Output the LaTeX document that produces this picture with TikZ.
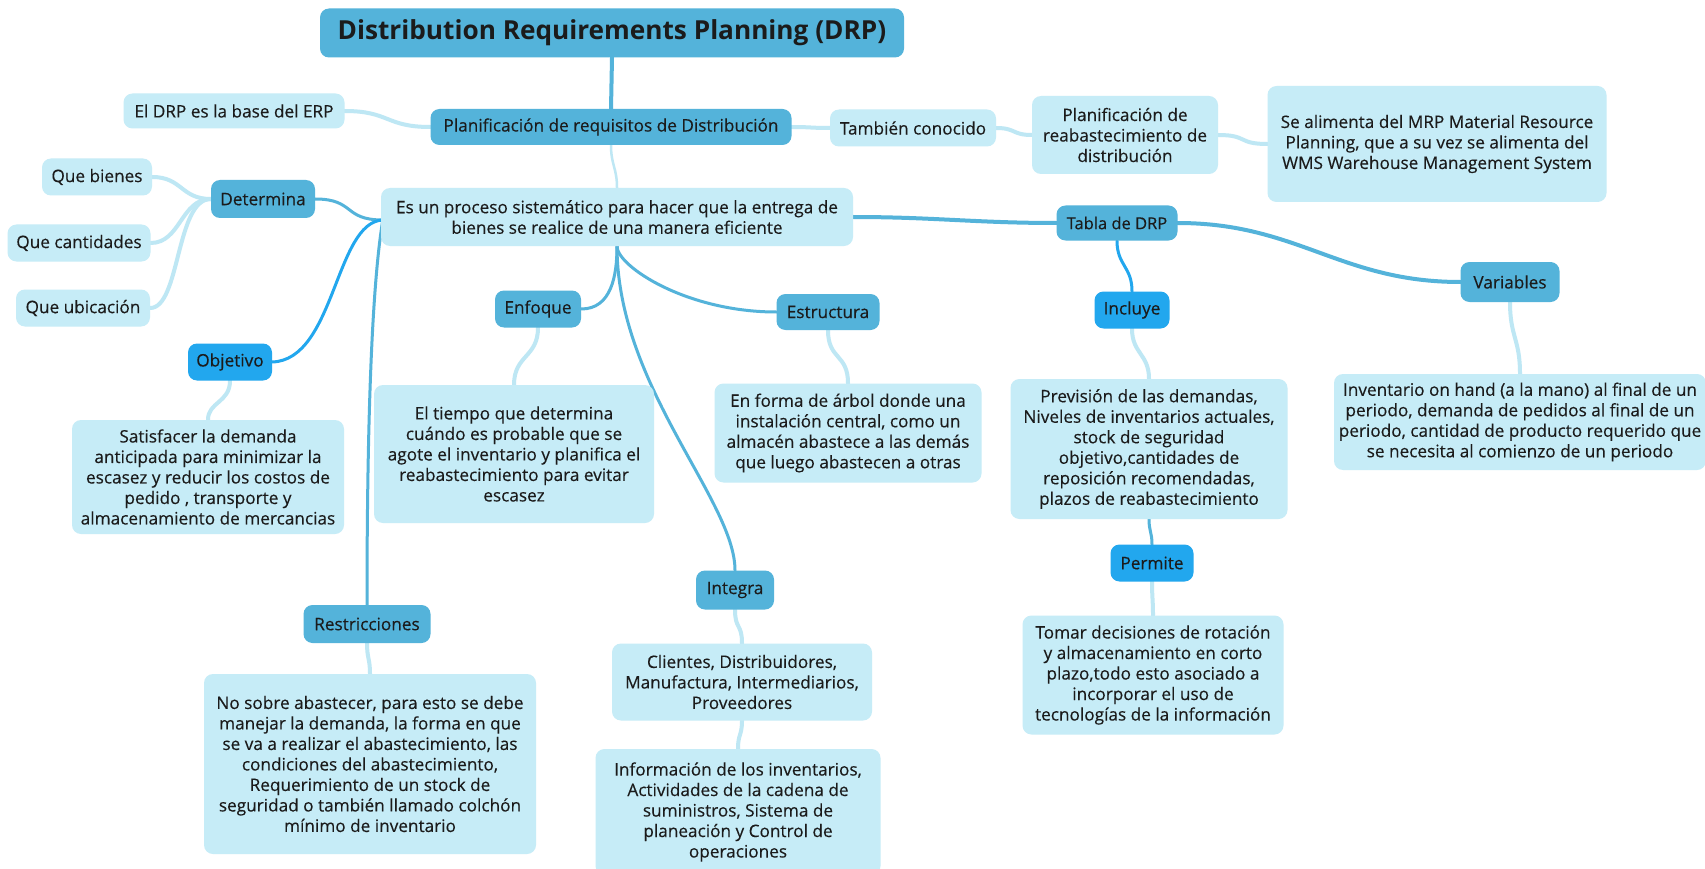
\documentclass[tikz,border=0pt]{standalone}
\usepackage{fontspec}
\setmainfont{Open Sans}[FakeBold=0.3]
\newfontfamily\titlefont{Open Sans}[BoldFont={* Bold}]
\usetikzlibrary{backgrounds}
\definecolor{midb}{HTML}{54B3DA}
\definecolor{lightb}{HTML}{C6ECF7}
\definecolor{brightb}{HTML}{22A7EE}
\definecolor{lightc}{HTML}{BEE7F4}
\definecolor{txt}{HTML}{1B1B1B}
\begin{document}
\begin{tikzpicture}[x=1pt,y=-1pt,
  base/.style={rounded corners=9pt, align=center, inner sep=0pt, text=txt, font=\fontsize{17.2}{20.5}\selectfont},
  lbox/.style={base, fill=lightb},
  mbox/.style={base, fill=midb},
  bbox/.style={base, fill=brightb},
  cmid/.style={draw=midb, line width=3pt, line cap=round},
  clight/.style={draw=lightc, line width=4pt, line cap=round},
  cbright/.style={draw=brightb, line width=3pt, line cap=round}]
\useasboundingbox (0,0) rectangle (1705,869);
% nodes
\node[mbox, minimum width=584pt, minimum height=49pt, font=\titlefont\fontsize{26.2}{30}\bfseries] (title) at (612,33) {Distribution Requirements Planning (DRP)};
\node[mbox, minimum width=361pt, minimum height=36pt] (plan) at (611,127) {Planificación de requisitos de Distribución};
\node[lbox, minimum width=221pt, minimum height=35pt] (drp) at (234,111) {El DRP es la base del ERP};
\node[lbox, minimum width=166pt, minimum height=37pt] (tam) at (913,128) {También conocido};
\node[lbox, minimum width=186pt, minimum height=78pt] (reab) at (1125,135) {Planificación de\\reabastecimiento de\\distribución};
\node[lbox, minimum width=339pt, minimum height=116pt] (alim) at (1437,144) {Se alimenta del MRP Material Resource\\Planning, que a su vez se alimenta del\\WMS Warehouse Management System};
\node[lbox, minimum width=472pt, minimum height=58pt] (proc) at (617,217) {Es un proceso sistemático para hacer que la entrega de\\bienes se realice de una manera eficiente};
\node[mbox, minimum width=104pt, minimum height=38pt] (det) at (263,199) {Determina};
\node[lbox, minimum width=110pt, minimum height=37pt] (q1) at (97,177) {Que bienes};
\node[lbox, minimum width=143pt, minimum height=37pt] (q2) at (79,243) {Que cantidades};
\node[lbox, minimum width=134pt, minimum height=37pt] (q3) at (83,308) {Que ubicación};
\node[bbox, minimum width=84pt, minimum height=37pt] (obj) at (230,362) {Objetivo};
\node[lbox, minimum width=272pt, minimum height=114pt] (sat) at (208,477) {Satisfacer la demanda\\anticipada para minimizar la\\escasez y reducir los costos de\\pedido , transporte y\\almacenamiento de mercancias};
\node[mbox, minimum width=86pt, minimum height=37pt] (enf) at (538,309) {Enfoque};
\node[lbox, minimum width=280pt, minimum height=138pt] (tie) at (514,454) {El tiempo que determina\\cuándo es probable que se\\agote el inventario y planifica el\\reabastecimiento para evitar\\escasez};
\node[mbox, minimum width=103pt, minimum height=36pt] (est) at (828,312) {Estructura};
\node[lbox, minimum width=267pt, minimum height=99pt] (for) at (848,433) {En forma de árbol donde una\\instalación central, como un\\almacén abastece a las demás\\que luego abastecen a otras};
\node[mbox, minimum width=78pt, minimum height=39pt] (int) at (735,590) {Integra};
\node[lbox, minimum width=260pt, minimum height=77pt] (cli) at (742,682) {Clientes, Distribuidores,\\Manufactura, Intermediarios,\\Proveedores};
\node[lbox, minimum width=285pt, minimum height=126pt] (inf) at (738,812) {Información de los inventarios,\\Actividades de la cadena de\\suministros, Sistema de\\planeación y Control de\\operaciones};
\node[mbox, minimum width=127pt, minimum height=38pt] (res) at (367,624) {Restricciones};
\node[lbox, minimum width=332pt, minimum height=180pt] (nos) at (370,764) {No sobre abastecer, para esto se debe\\manejar la demanda, la forma en que\\se va a realizar el abastecimiento, las\\condiciones del abastecimiento,\\Requerimiento de un stock de\\seguridad o también llamado colchón\\mínimo de inventario};
\node[mbox, minimum width=121pt, minimum height=35pt, font=\fontsize{16.5}{18}\selectfont] (tab) at (1117,223) {Tabla de DRP};
\node[bbox, minimum width=75pt, minimum height=37pt] (inc) at (1132,310) {Incluye};
\node[lbox, minimum width=277pt, minimum height=140pt] (pre) at (1149,449) {Previsión de las demandas,\\Niveles de inventarios actuales,\\stock de seguridad\\objetivo,cantidades de\\reposición recomendadas,\\plazos de reabastecimiento};
\node[bbox, minimum width=83pt, minimum height=37pt] (per) at (1152,563) {Permite};
\node[lbox, minimum width=261pt, minimum height=119pt] (tom) at (1153,675) {Tomar decisiones de rotación\\y almacenamiento en corto\\plazo,todo esto asociado a\\incorporar el uso de\\tecnologías de la información};
\node[mbox, minimum width=99pt, minimum height=40pt] (var) at (1510,282) {Variables};
\node[lbox, minimum width=372pt, minimum height=96pt] (inv) at (1520,422) {Inventario on hand (a la mano) al final de un\\periodo, demanda de pedidos al final de un\\periodo, cantidad de producto requerido que\\se necesita al comienzo de un periodo};
\coordinate (pl) at ([xshift=2pt,yshift=-3pt]proc.west);
\coordinate (pb) at (proc.south);
% connectors
\begin{pgfonlayer}{background}
\fill[white] (0,0) rectangle (1705,869);
\draw[cmid, line width=4pt] (title.south) -- (plan.north);
\draw[clight] (plan.west) .. controls +(-45,0) and +(45,0) .. (drp.east);
\draw[clight] (plan.east) .. controls +(20,0) and +(-20,0) .. (tam.west);
\draw[clight] (tam.east) .. controls +(20,0) and +(-20,0) .. (reab.west);
\draw[clight] (reab.east) .. controls +(30,0) and +(-30,0) .. (alim.west);
\draw[clight, line width=2.5pt] (plan.south) .. controls +(0,20) and +(0,-20) .. (proc.north);
\draw[cmid] (pl) .. controls +(-40,0) and +(40,0) .. (det.east);
\draw[cbright] (obj.east) .. controls (335,360) and (335,222) .. (pl);
\draw[cmid] (pl) .. controls +(-10,60) and +(0,-200) .. (res.north);
\draw[clight] (det.west) .. controls +(-30,0) and +(30,0) .. (q1.east);
\draw[clight] (det.west) .. controls +(-30,0) and +(30,0) .. (q2.east);
\draw[clight] (det.west) .. controls +(-35,0) and +(30,0) .. (q3.east);
\draw[clight] (obj.south) .. controls +(0,22) and +(0,-18) .. (sat.north);
\draw[cmid] (enf.east) .. controls +(30,0) and +(0,30) .. (pb);
\draw[cmid] (est.west) .. controls +(-90,0) and +(0,20) .. (pb);
\draw[cmid] (pb) .. controls +(0,140) and +(0,-70) .. (int.north);
\draw[clight] (enf.south) .. controls +(0,30) and +(0,-30) .. (tie.north);
\draw[clight] (est.south) .. controls +(0,30) and +(0,-30) .. (for.north);
\draw[clight] (int.south) .. controls +(0,20) and +(0,-20) .. (cli.north);
\draw[clight] (cli.south) .. controls +(0,15) and +(0,-15) .. (inf.north);
\draw[clight] (res.south) .. controls +(0,15) and +(0,-15) .. (nos.north);
\draw[cmid, line width=4pt] (proc.east) .. controls +(80,0) and +(-80,0) .. (tab.west);
\draw[cbright] (tab.south) .. controls +(0,25) and +(0,-25) .. (inc.north);
\draw[cmid, line width=4pt] (tab.east) .. controls +(120,0) and +(-120,0) .. (var.west);
\draw[clight] (var.south) .. controls +(0,35) and +(0,-35) .. (inv.north);
\draw[clight] (inc.south) .. controls +(0,25) and +(0,-25) .. (pre.north);
\draw[cmid] (pre.south) .. controls +(0,12) and +(0,-12) .. (per.north);
\draw[clight] (per.south) .. controls +(0,15) and +(0,-15) .. (tom.north);
\end{pgfonlayer}
\end{tikzpicture}
\end{document}
